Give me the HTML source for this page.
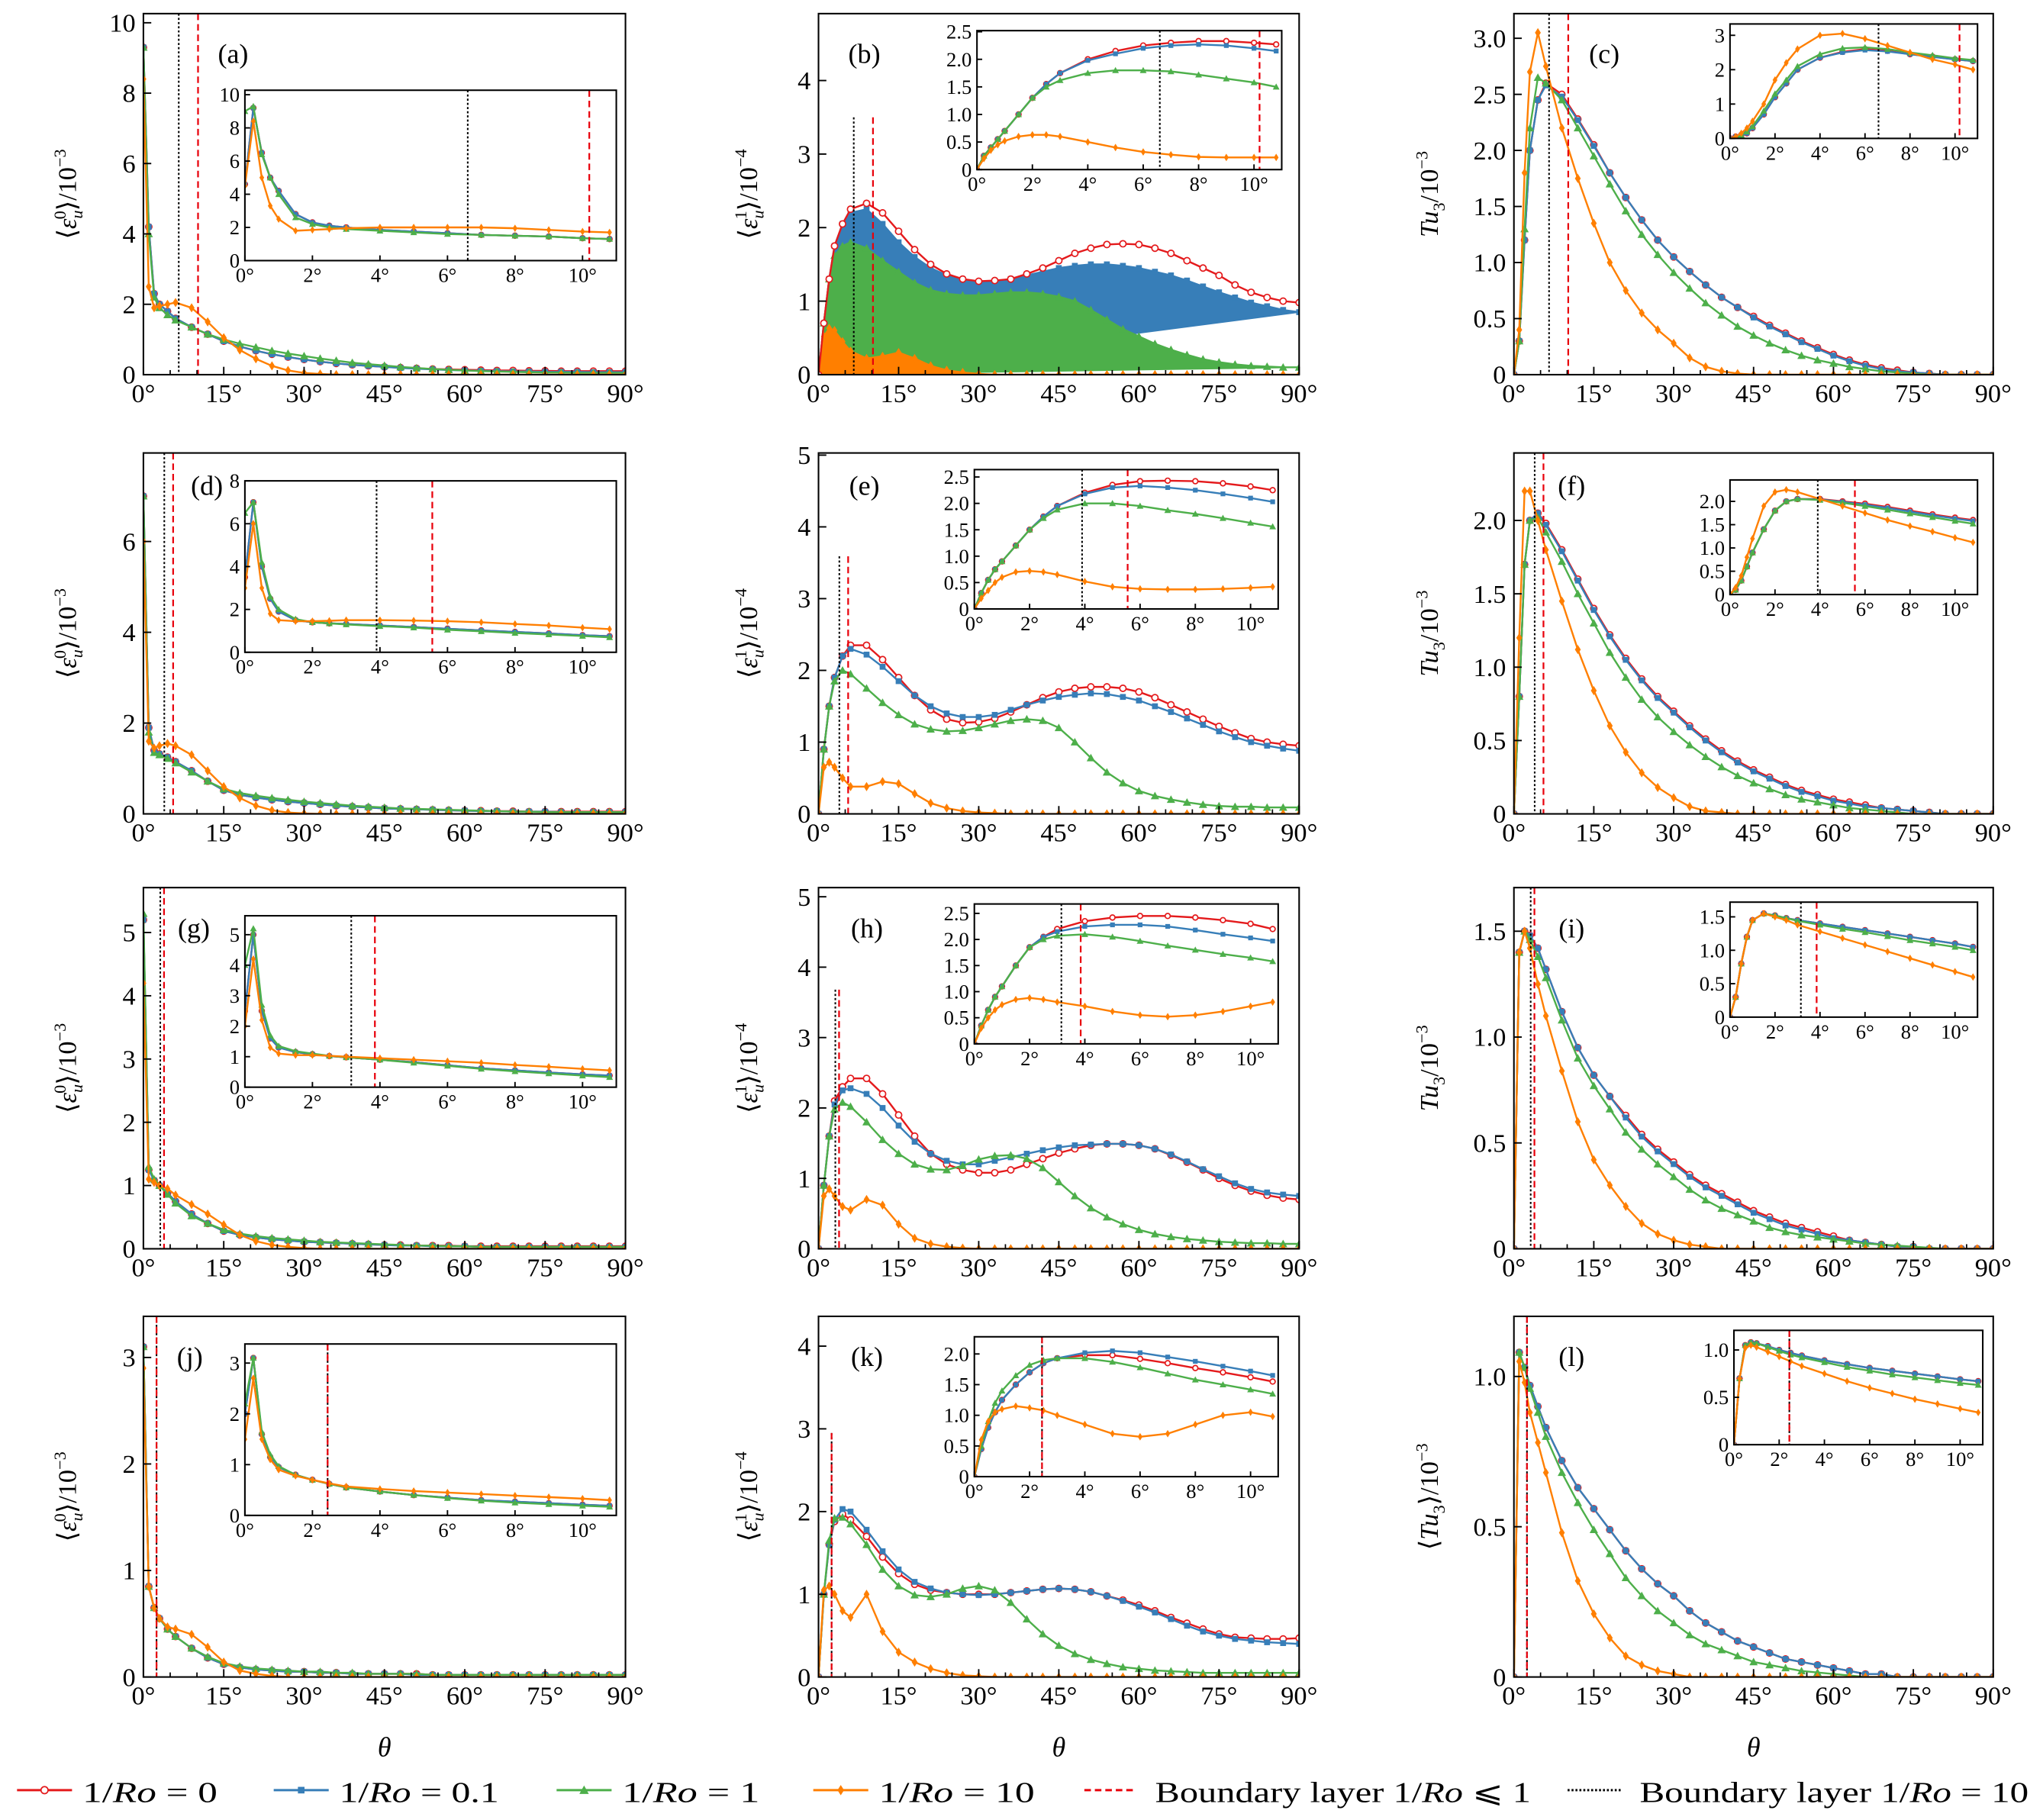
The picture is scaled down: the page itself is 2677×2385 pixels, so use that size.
<!DOCTYPE html>
<html><head><meta charset="utf-8"><style>
html,body{margin:0;padding:0;background:#fff;}
svg{display:block;}
text{font-family:"Liberation Serif",serif;fill:#000;}
</style></head><body>
<svg id="fig" xmlns="http://www.w3.org/2000/svg" width="2677" height="2385" viewBox="0 0 1560 1389.8" preserveAspectRatio="none">
<rect x="0" y="0" width="1560" height="1389.8" fill="#fff"/>
</svg>
<script>
// ---------- data ----------
const thetaMain=[0,1,2,3,4.5,6,9,12,15,18,21,24,27,30,33,36,39,42,45,48,51,54,57,60,63,66,69,72,75,78,81,84,87,90];
const thetaInset=[0,0.25,0.5,0.75,1,1.5,2,2.5,3,4,5,6,7,8,9,10,10.8];
const Z18=[0,0,0,0,0,0,0,0,0,0,0,0,0,0,0,0,0,0];
const Z19=[0].concat(Z18);
const Z16=Z18.slice(2);
// (a)
const aRed=[9.3,4.2,2.3,2.0,1.8,1.6,1.35,1.15,0.95,0.8,0.68,0.58,0.5,0.43,0.37,0.32,0.28,0.25,0.22,0.2,0.18,0.16,0.15,0.14,0.13,0.12,0.12,0.11,0.11,0.1,0.1,0.1,0.1,0.1];
const aBlue=[9.3,4.2,2.3,2.0,1.8,1.6,1.35,1.15,0.95,0.8,0.68,0.58,0.5,0.43,0.37,0.32,0.28,0.25,0.22,0.19,0.17,0.15,0.13,0.12,0.11,0.1,0.09,0.09,0.08,0.08,0.08,0.07,0.07,0.07];
const aGreen=[9.3,4.0,2.2,1.9,1.7,1.55,1.35,1.15,1.0,0.88,0.78,0.68,0.6,0.53,0.46,0.4,0.34,0.3,0.26,0.22,0.19,0.16,0.14,0.12,0.1,0.09,0.08,0.07,0.06,0.06,0.05,0.05,0.05,0.05];
const aOrange=[8.4,2.5,1.9,1.95,2.0,2.05,1.9,1.5,1.05,0.7,0.45,0.25,0.12,0.05,0.02,0].concat(Z18);
const aiRed=[4.6,9.2,6.5,5.0,4.2,2.8,2.3,2.1,2.0,1.85,1.75,1.65,1.55,1.5,1.45,1.35,1.3];
const aiBlue=[4.6,9.2,6.5,5.0,4.2,2.8,2.3,2.1,2.0,1.85,1.75,1.65,1.55,1.5,1.45,1.35,1.3];
const aiGreen=[9.0,9.3,6.4,5.0,4.0,2.6,2.2,2.0,1.9,1.8,1.7,1.6,1.55,1.5,1.45,1.35,1.3];
const aiOrange=[4.5,8.4,5.0,3.3,2.5,1.8,1.85,1.9,1.95,2.0,2.0,2.0,2.0,1.95,1.85,1.75,1.7];
// (b)
const bRed=[0,0.7,1.3,1.75,2.05,2.25,2.33,2.2,1.95,1.7,1.5,1.37,1.3,1.27,1.28,1.3,1.37,1.45,1.55,1.65,1.72,1.77,1.78,1.77,1.72,1.65,1.55,1.45,1.35,1.22,1.12,1.05,1.0,0.98];
const bBlue=[0,0.7,1.3,1.75,2.05,2.2,2.25,2.05,1.8,1.6,1.45,1.35,1.28,1.25,1.27,1.3,1.35,1.4,1.45,1.48,1.5,1.5,1.48,1.45,1.4,1.35,1.28,1.2,1.12,1.05,0.98,0.93,0.88,0.85];
const bGreen=[0,0.7,1.3,1.62,1.75,1.8,1.72,1.55,1.4,1.25,1.15,1.1,1.08,1.08,1.1,1.12,1.12,1.1,1.06,1.0,0.88,0.75,0.62,0.52,0.42,0.34,0.27,0.21,0.17,0.14,0.12,0.11,0.1,0.1];
const bOrange=[0,0.52,0.63,0.6,0.45,0.32,0.22,0.25,0.3,0.22,0.12,0.06,0.03,0.01,0,0].concat(Z18);
const biRed=[0,0.25,0.4,0.55,0.7,1.0,1.3,1.55,1.75,2.0,2.15,2.25,2.3,2.33,2.33,2.3,2.27];
const biBlue=[0,0.25,0.4,0.55,0.7,1.0,1.3,1.55,1.75,1.98,2.1,2.2,2.25,2.27,2.25,2.2,2.15];
const biGreen=[0,0.25,0.4,0.55,0.7,1.0,1.3,1.5,1.62,1.75,1.8,1.8,1.78,1.72,1.65,1.58,1.5];
const biOrange=[0,0.2,0.35,0.45,0.52,0.6,0.63,0.63,0.6,0.5,0.4,0.32,0.27,0.23,0.22,0.22,0.22];
// (c)
const cRed=[0,0.3,1.2,2.0,2.45,2.6,2.5,2.28,2.05,1.8,1.58,1.38,1.2,1.05,0.92,0.8,0.69,0.6,0.52,0.44,0.37,0.3,0.24,0.18,0.13,0.09,0.06,0.04,0.02,0.01,0,0,0,0];
const cBlue=[0,0.3,1.2,2.0,2.45,2.58,2.48,2.27,2.04,1.8,1.58,1.38,1.2,1.05,0.92,0.8,0.69,0.6,0.51,0.43,0.36,0.29,0.23,0.17,0.12,0.08,0.05,0.03,0.02,0.01,0,0,0,0];
const cGreen=[0,0.3,1.3,2.2,2.65,2.6,2.45,2.2,1.95,1.7,1.46,1.25,1.07,0.91,0.77,0.64,0.53,0.43,0.35,0.28,0.22,0.17,0.13,0.1,0.07,0.05,0.03,0.02,0.01,0,0,0,0,0];
const cOrange=[0,0.4,1.8,2.7,3.05,2.75,2.2,1.75,1.35,1.0,0.75,0.55,0.4,0.28,0.15,0.07,0.03,0.01].concat(Z16);
const ciRed=[0,0.05,0.1,0.15,0.3,0.7,1.2,1.6,2.0,2.35,2.52,2.6,2.55,2.45,2.38,2.3,2.25];
const ciBlue=[0,0.05,0.1,0.15,0.3,0.7,1.2,1.6,2.0,2.35,2.5,2.57,2.53,2.45,2.37,2.3,2.25];
const ciGreen=[0,0.05,0.1,0.2,0.35,0.8,1.3,1.7,2.1,2.45,2.62,2.65,2.6,2.5,2.42,2.33,2.28];
const ciOrange=[0,0.05,0.15,0.3,0.5,1.0,1.7,2.2,2.6,3.0,3.05,2.9,2.7,2.5,2.3,2.15,2.0];
// (d)
const dRed=[7.0,1.9,1.4,1.32,1.25,1.15,0.95,0.72,0.52,0.42,0.36,0.31,0.27,0.24,0.21,0.18,0.16,0.14,0.12,0.11,0.1,0.09,0.08,0.07,0.07,0.06,0.06,0.05,0.05,0.05,0.05,0.05,0.05,0.05];
const dBlue=[7.0,1.9,1.4,1.32,1.25,1.15,0.95,0.72,0.52,0.42,0.36,0.31,0.27,0.24,0.21,0.18,0.16,0.14,0.12,0.11,0.1,0.09,0.08,0.07,0.06,0.06,0.05,0.05,0.05,0.04,0.04,0.04,0.04,0.04];
const dGreen=[7.0,1.8,1.35,1.3,1.22,1.12,0.92,0.72,0.55,0.46,0.4,0.35,0.31,0.27,0.24,0.21,0.18,0.16,0.14,0.12,0.11,0.1,0.09,0.08,0.07,0.06,0.05,0.05,0.04,0.04,0.04,0.04,0.04,0.04];
const dOrange=[6.0,1.6,1.45,1.5,1.55,1.5,1.3,0.95,0.6,0.35,0.18,0.08,0.03,0.01,0].concat(Z19);
const diRed=[3.5,7.0,4.0,2.5,1.9,1.5,1.4,1.35,1.32,1.25,1.18,1.1,1.02,0.95,0.88,0.8,0.75];
const diBlue=[3.5,7.0,4.0,2.5,1.9,1.5,1.4,1.35,1.32,1.25,1.18,1.1,1.02,0.95,0.88,0.8,0.75];
const diGreen=[6.5,7.0,4.2,2.6,2.0,1.55,1.4,1.35,1.3,1.22,1.15,1.05,0.98,0.9,0.83,0.76,0.7];
const diOrange=[3.0,6.0,3.0,1.8,1.5,1.45,1.45,1.47,1.5,1.5,1.48,1.45,1.4,1.32,1.25,1.15,1.08];
// (e)
const eRed=[0,0.9,1.5,1.9,2.2,2.35,2.35,2.15,1.9,1.65,1.45,1.32,1.27,1.28,1.33,1.42,1.52,1.62,1.7,1.75,1.77,1.77,1.75,1.7,1.62,1.52,1.42,1.32,1.22,1.13,1.05,1.0,0.97,0.95];
const eBlue=[0,0.9,1.5,1.9,2.2,2.3,2.22,2.05,1.85,1.65,1.5,1.4,1.35,1.35,1.38,1.45,1.52,1.58,1.63,1.66,1.68,1.67,1.63,1.58,1.5,1.42,1.33,1.24,1.15,1.07,1.0,0.95,0.91,0.88];
const eGreen=[0,0.9,1.5,1.85,2.0,1.95,1.75,1.55,1.38,1.25,1.18,1.15,1.16,1.2,1.25,1.3,1.32,1.3,1.2,1.0,0.78,0.58,0.43,0.32,0.25,0.2,0.16,0.13,0.11,0.1,0.1,0.09,0.09,0.09];
const eOrange=[0,0.65,0.72,0.65,0.5,0.38,0.38,0.45,0.42,0.28,0.15,0.08,0.04,0.02,0.01,0].concat(Z18);
const eiRed=[0,0.3,0.55,0.75,0.9,1.2,1.5,1.75,1.95,2.2,2.35,2.42,2.43,2.42,2.38,2.32,2.25];
const eiBlue=[0,0.3,0.55,0.75,0.9,1.2,1.5,1.75,1.95,2.18,2.3,2.33,2.3,2.25,2.18,2.1,2.03];
const eiGreen=[0,0.3,0.55,0.75,0.9,1.2,1.5,1.72,1.88,2.0,2.0,1.95,1.87,1.8,1.72,1.63,1.56];
const eiOrange=[0,0.2,0.35,0.5,0.6,0.7,0.72,0.7,0.65,0.52,0.42,0.38,0.37,0.37,0.38,0.4,0.42];
// (f)
const fRed=[0,0.8,1.7,2.0,2.05,1.98,1.8,1.6,1.4,1.22,1.06,0.92,0.8,0.7,0.6,0.51,0.43,0.36,0.3,0.25,0.2,0.16,0.13,0.1,0.08,0.06,0.04,0.03,0.02,0.01,0,0,0,0];
const fBlue=[0,0.8,1.7,2.0,2.05,1.97,1.79,1.59,1.39,1.21,1.05,0.91,0.79,0.69,0.59,0.5,0.42,0.35,0.29,0.24,0.19,0.15,0.12,0.09,0.07,0.05,0.04,0.03,0.02,0.01,0,0,0,0];
const fGreen=[0,0.8,1.7,2.0,2.02,1.92,1.72,1.5,1.3,1.1,0.93,0.78,0.66,0.56,0.47,0.39,0.32,0.26,0.21,0.17,0.13,0.1,0.08,0.06,0.04,0.03,0.02,0.01,0,0,0,0,0,0];
const fOrange=[0,1.2,2.2,2.2,2.0,1.8,1.45,1.12,0.84,0.6,0.42,0.28,0.18,0.11,0.05,0.02,0.01,0].concat(Z16);
const fiRed=[0,0.1,0.3,0.6,0.9,1.4,1.8,2.0,2.05,2.05,2.0,1.95,1.88,1.8,1.72,1.65,1.6];
const fiBlue=[0,0.1,0.3,0.6,0.9,1.4,1.8,2.0,2.05,2.04,1.99,1.93,1.86,1.78,1.7,1.63,1.58];
const fiGreen=[0,0.1,0.3,0.6,0.9,1.4,1.8,2.0,2.05,2.03,1.97,1.9,1.82,1.74,1.66,1.58,1.52];
const fiOrange=[0,0.15,0.4,0.8,1.2,1.9,2.2,2.25,2.2,2.05,1.9,1.75,1.6,1.47,1.35,1.22,1.12];
// (g)
const gRed=[5.2,1.25,1.08,1.0,0.88,0.75,0.55,0.4,0.28,0.22,0.18,0.15,0.13,0.11,0.1,0.09,0.08,0.07,0.06,0.06,0.05,0.05,0.05,0.04,0.04,0.04,0.04,0.04,0.04,0.04,0.04,0.04,0.04,0.04];
const gBlue=[5.2,1.25,1.08,1.0,0.88,0.75,0.55,0.4,0.28,0.22,0.18,0.15,0.13,0.11,0.1,0.09,0.08,0.07,0.06,0.05,0.05,0.04,0.04,0.04,0.03,0.03,0.03,0.03,0.03,0.03,0.03,0.03,0.03,0.03];
const gGreen=[5.3,1.3,1.1,1.0,0.86,0.72,0.52,0.4,0.3,0.24,0.2,0.17,0.15,0.13,0.11,0.1,0.09,0.08,0.07,0.06,0.05,0.05,0.04,0.04,0.03,0.03,0.03,0.03,0.03,0.03,0.03,0.03,0.03,0.03];
const gOrange=[4.2,1.1,1.05,1.0,0.95,0.85,0.7,0.55,0.38,0.22,0.12,0.06,0.03,0.01,0].concat(Z19);
const giRed=[2.5,5.0,2.5,1.6,1.3,1.15,1.08,1.02,0.98,0.9,0.82,0.72,0.62,0.55,0.48,0.42,0.38];
const giBlue=[2.5,5.0,2.5,1.6,1.3,1.15,1.08,1.02,0.98,0.9,0.82,0.72,0.62,0.55,0.48,0.42,0.38];
const giGreen=[4.0,5.2,2.7,1.7,1.35,1.18,1.1,1.03,0.98,0.9,0.8,0.7,0.6,0.52,0.45,0.38,0.33];
const giOrange=[2.0,4.2,2.2,1.3,1.1,1.05,1.05,1.03,1.0,0.95,0.9,0.85,0.8,0.73,0.67,0.6,0.55];
// (h)
const hRed=[0,0.9,1.6,2.1,2.3,2.42,2.42,2.2,1.9,1.6,1.35,1.2,1.12,1.08,1.08,1.12,1.2,1.28,1.36,1.42,1.47,1.49,1.49,1.47,1.42,1.33,1.23,1.12,1.0,0.9,0.82,0.76,0.72,0.7];
const hBlue=[0,0.9,1.6,2.05,2.25,2.28,2.2,2.0,1.75,1.52,1.35,1.25,1.2,1.2,1.25,1.3,1.35,1.4,1.44,1.47,1.48,1.49,1.49,1.47,1.42,1.34,1.24,1.13,1.03,0.93,0.85,0.8,0.77,0.75];
const hGreen=[0,0.9,1.6,1.98,2.08,2.02,1.8,1.55,1.35,1.2,1.13,1.12,1.18,1.27,1.32,1.33,1.28,1.15,0.95,0.75,0.58,0.45,0.35,0.27,0.21,0.17,0.14,0.12,0.1,0.09,0.08,0.08,0.07,0.07];
const hOrange=[0,0.75,0.85,0.75,0.6,0.55,0.7,0.62,0.35,0.15,0.07,0.03,0.01,0,0,0].concat(Z18);
const hiRed=[0,0.35,0.65,0.9,1.1,1.5,1.85,2.05,2.2,2.35,2.42,2.45,2.45,2.42,2.37,2.3,2.2];
const hiBlue=[0,0.35,0.65,0.9,1.1,1.5,1.85,2.05,2.15,2.25,2.28,2.28,2.25,2.18,2.1,2.03,1.97];
const hiGreen=[0,0.35,0.65,0.9,1.1,1.5,1.85,2.0,2.07,2.1,2.05,1.97,1.88,1.8,1.72,1.65,1.58];
const hiOrange=[0,0.3,0.5,0.65,0.75,0.85,0.88,0.85,0.8,0.72,0.62,0.55,0.52,0.55,0.62,0.72,0.8];
// (i)
const iRed=[0,1.4,1.5,1.48,1.42,1.32,1.12,0.95,0.82,0.72,0.63,0.54,0.47,0.41,0.35,0.3,0.26,0.22,0.18,0.15,0.12,0.1,0.08,0.06,0.04,0.03,0.02,0.01,0.01,0,0,0,0,0];
const iBlue=[0,1.4,1.5,1.48,1.42,1.32,1.12,0.95,0.82,0.72,0.62,0.53,0.46,0.4,0.34,0.29,0.25,0.21,0.17,0.14,0.11,0.09,0.07,0.05,0.04,0.03,0.02,0.01,0.01,0,0,0,0,0];
const iGreen=[0,1.4,1.5,1.46,1.38,1.28,1.08,0.9,0.77,0.66,0.55,0.47,0.4,0.34,0.28,0.23,0.19,0.16,0.13,0.1,0.08,0.065,0.055,0.045,0.035,0.025,0.02,0.015,0.01,0.005,0,0,0,0];
const iOrange=[0,1.4,1.5,1.42,1.25,1.1,0.84,0.6,0.42,0.3,0.2,0.12,0.07,0.04,0.02,0.01].concat(Z18);
const iiRed=[0,0.3,0.8,1.2,1.45,1.55,1.52,1.48,1.45,1.4,1.35,1.3,1.25,1.2,1.15,1.1,1.05];
const iiBlue=[0,0.3,0.8,1.2,1.45,1.55,1.52,1.48,1.45,1.4,1.35,1.3,1.25,1.2,1.15,1.1,1.05];
const iiGreen=[0,0.3,0.8,1.2,1.45,1.55,1.52,1.48,1.44,1.38,1.32,1.27,1.21,1.15,1.1,1.05,1.0];
const iiOrange=[0,0.3,0.8,1.2,1.45,1.55,1.5,1.45,1.38,1.28,1.18,1.08,0.98,0.88,0.78,0.68,0.6];
// (j)
const jRed=[3.1,0.85,0.65,0.55,0.45,0.38,0.27,0.18,0.12,0.09,0.07,0.06,0.05,0.05,0.04,0.04,0.03,0.03,0.03,0.03,0.03,0.02,0.02,0.02,0.02,0.02,0.02,0.02,0.02,0.02,0.02,0.02,0.02,0.02];
const jBlue=[3.1,0.85,0.65,0.55,0.45,0.38,0.27,0.18,0.12,0.09,0.07,0.06,0.05,0.05,0.04,0.04,0.03,0.03,0.03,0.03,0.02,0.02,0.02,0.02,0.02,0.02,0.02,0.02,0.02,0.02,0.02,0.02,0.02,0.02];
const jGreen=[3.1,0.85,0.65,0.55,0.45,0.38,0.27,0.19,0.13,0.1,0.08,0.07,0.06,0.05,0.05,0.04,0.04,0.03,0.03,0.03,0.03,0.02,0.02,0.02,0.02,0.02,0.02,0.02,0.02,0.02,0.02,0.02,0.02,0.02];
const jOrange=[2.9,0.85,0.65,0.55,0.47,0.45,0.4,0.28,0.14,0.06,0.03,0.01,0,0,0,0].concat(Z18);
const jiRed=[2.0,3.1,1.6,1.15,0.95,0.8,0.7,0.62,0.55,0.47,0.4,0.35,0.3,0.27,0.24,0.21,0.19];
const jiBlue=[2.0,3.1,1.6,1.15,0.95,0.8,0.7,0.62,0.55,0.47,0.4,0.35,0.3,0.27,0.24,0.21,0.19];
const jiGreen=[2.2,3.1,1.65,1.2,0.97,0.8,0.7,0.62,0.55,0.47,0.4,0.34,0.29,0.25,0.22,0.19,0.17];
const jiOrange=[1.5,2.7,1.5,1.1,0.9,0.78,0.7,0.63,0.57,0.52,0.48,0.45,0.42,0.39,0.36,0.33,0.3];
// (k)
const kRed=[0,1.0,1.6,1.88,1.97,1.9,1.7,1.45,1.25,1.12,1.05,1.02,1.0,1.0,1.0,1.02,1.04,1.06,1.07,1.06,1.03,0.98,0.93,0.87,0.8,0.72,0.65,0.58,0.52,0.48,0.47,0.46,0.46,0.47];
const kBlue=[0,1.0,1.6,1.9,2.03,2.0,1.78,1.52,1.3,1.15,1.07,1.02,1.0,0.99,1.0,1.02,1.04,1.06,1.07,1.06,1.03,0.98,0.92,0.85,0.78,0.7,0.62,0.55,0.5,0.46,0.44,0.42,0.41,0.4];
const kGreen=[0,1.0,1.65,1.92,1.93,1.85,1.6,1.3,1.1,0.99,0.97,1.0,1.07,1.1,1.05,0.9,0.7,0.52,0.38,0.28,0.21,0.16,0.12,0.1,0.08,0.07,0.06,0.05,0.05,0.05,0.05,0.05,0.05,0.05];
const kOrange=[0,1.05,1.1,1.0,0.8,0.72,1.0,0.55,0.3,0.18,0.1,0.05,0.02,0.01,0,0].concat(Z18);
const kiRed=[0,0.45,0.8,1.05,1.25,1.5,1.7,1.85,1.93,1.98,1.98,1.92,1.85,1.77,1.7,1.62,1.55];
const kiBlue=[0,0.45,0.8,1.05,1.25,1.5,1.7,1.85,1.93,2.02,2.05,2.02,1.95,1.88,1.8,1.72,1.65];
const kiGreen=[0,0.5,0.9,1.2,1.4,1.65,1.82,1.9,1.93,1.93,1.87,1.78,1.68,1.58,1.5,1.42,1.35];
const kiOrange=[0,0.6,0.9,1.05,1.1,1.15,1.12,1.08,1.0,0.85,0.7,0.65,0.7,0.85,1.0,1.05,0.98];
// (l)
const lRed=[0,1.08,1.03,0.97,0.9,0.83,0.72,0.63,0.56,0.49,0.42,0.36,0.31,0.27,0.22,0.18,0.15,0.12,0.1,0.08,0.06,0.05,0.04,0.03,0.02,0.01,0.01,0,0,0,0,0,0,0];
const lBlue=[0,1.08,1.03,0.97,0.9,0.83,0.72,0.63,0.56,0.49,0.42,0.36,0.31,0.27,0.22,0.18,0.15,0.12,0.1,0.08,0.06,0.05,0.04,0.03,0.02,0.01,0.01,0,0,0,0,0,0,0];
const lGreen=[0,1.08,1.03,0.96,0.88,0.8,0.68,0.58,0.49,0.41,0.33,0.27,0.22,0.18,0.14,0.11,0.09,0.07,0.05,0.04,0.03,0.02,0.015,0.01,0.005,0,0,0,0,0,0,0,0,0];
const lOrange=[0,1.05,0.98,0.88,0.78,0.68,0.48,0.32,0.21,0.13,0.07,0.04,0.02,0.01,0,0].concat(Z18);
const liRed=[0,0.7,1.05,1.08,1.07,1.04,1.0,0.97,0.94,0.89,0.85,0.81,0.78,0.75,0.72,0.69,0.67];
const liBlue=[0,0.7,1.05,1.08,1.07,1.04,1.0,0.97,0.94,0.89,0.85,0.81,0.78,0.75,0.72,0.69,0.67];
const liGreen=[0,0.7,1.05,1.08,1.07,1.03,0.99,0.95,0.92,0.87,0.82,0.78,0.74,0.71,0.68,0.65,0.63];
const liOrange=[0,0.7,1.02,1.05,1.03,0.98,0.93,0.88,0.83,0.75,0.67,0.6,0.54,0.48,0.43,0.38,0.34];
// boundary layer thickness (deg) per row: [1/Ro=10 (black), 1/Ro<=1 (red)]
const blBlack=[6.6,3.9,3.15,2.45];
const blRed=[10.2,5.55,3.85,2.45];
const xTickMain=[0,15,30,45,60,75,90];
const xTickInset=[0,2,4,6,8,10];

// ---------- drawing ----------
const NS='http://www.w3.org/2000/svg';
const svg=document.getElementById('fig');
const COL={r:'#e41a1c',b:'#377eb8',g:'#4daf4a',o:'#ff7f00'};
function el(tag,attrs,parent){const e=document.createElementNS(NS,tag);for(const k in attrs)e.setAttribute(k,attrs[k]);(parent||svg).appendChild(e);return e;}
let clipId=0;
function fmt(v,dec){return v===0?'0':v.toFixed(dec);}

function marker(g,type,x,y,c,s){
  let m;
  if(type==='o'){m=el('circle',{cx:x,cy:y,r:s*0.75,fill:'#fff',stroke:c,'stroke-width':1});}
  else if(type==='s'){m=el('rect',{x:x-s*0.7,y:y-s*0.7,width:s*1.4,height:s*1.4,fill:c});}
  else if(type==='t'){m=el('polygon',{points:`${x},${y-s} ${x-s},${y+s*0.8} ${x+s},${y+s*0.8}`,fill:c});}
  else {m=el('polygon',{points:`${x},${y-s*1.1} ${x-s*0.7},${y} ${x},${y+s*1.1} ${x+s*0.7},${y}`,fill:c});}
  g.appendChild(m);
  
  
}

function axes(p){
  const sx=t=>p.x0+t/p.xmax*(p.x1-p.x0);
  const sy=v=>p.y1-v/p.ymax*(p.y1-p.y0);
  const g=el('g',{});
  
  
  const cid='c'+(clipId++);
  const cp=el('clipPath',{id:cid},g);
  el('rect',{x:p.x0,y:p.y0,width:p.x1-p.x0,height:p.y1-p.y0},cp);
  if(p.inset){const bg=el('rect',{x:p.x0,y:p.y0,width:p.x1-p.x0,height:p.y1-p.y0,fill:'#fff'},g);
    
    }
  const plot=el('g',{'clip-path':`url(#${cid})`},g);
  
  
  const keys=[['r','o'],['b','s'],['g','t'],['o','d']];
  const names=['series-ro-0','series-ro-0.1','series-ro-1','series-ro-10'];
  const order=p.fill?[1,2,3,0]:[0,1,2,3];
  order.forEach(i=>{
    const ys=p.series[i];const c=COL[keys[i][0]];
    const sg=el('g',{},plot);
    
    
    const pts=p.theta.map((t,j)=>`${sx(t).toFixed(2)},${sy(ys[j]).toFixed(2)}`).join(' ');
    if(p.fill&&i!==0){
      const poly=el('polygon',{points:pts,fill:c,stroke:c,'stroke-width':1},sg);
      
      
    }
    const pl=el('polyline',{points:pts,fill:'none',stroke:c,'stroke-width':1.4,'stroke-linejoin':'round'},sg);
    
    
    p.theta.forEach((t,j)=>{marker(sg,keys[i][1],sx(t),sy(ys[j]),c,p.ms);});
  });
  const topV=p.dashTop==null?p.ymax:p.dashTop;
  const lb=el('line',{x1:sx(blBlack[p.row]),x2:sx(blBlack[p.row]),y1:sy(topV),y2:p.y1,stroke:'#000','stroke-width':1.2,'stroke-dasharray':'1.6,1.6'},plot);
  
  
  const lr=el('line',{x1:sx(blRed[p.row]),x2:sx(blRed[p.row]),y1:sy(topV),y2:p.y1,stroke:'#e8000b','stroke-width':1.3,'stroke-dasharray':'5,3'},plot);
  
  
  const fr=el('rect',{x:p.x0,y:p.y0,width:p.x1-p.x0,height:p.y1-p.y0,fill:'none',stroke:'#000','stroke-width':1.2},g);
  
  
  const tl=p.inset?4:6;
  p.yticks.forEach(v=>{
    const y=sy(v);
    const t=el('line',{x1:p.x0,x2:p.x0+tl,y1:y,y2:y,stroke:'#000','stroke-width':1.1},g);
    
    
    const tx=el('text',{x:p.x0-(p.inset?4:6),y:y+p.fs*0.34,'font-size':p.fs,'text-anchor':'end'},g);
    tx.textContent=fmt(v,p.ydec);
    
    
  });
  p.xticks.forEach(v=>{
    const x=sx(v);
    const t=el('line',{x1:x,x2:x,y1:p.y1,y2:p.y1-tl,stroke:'#000','stroke-width':1.1},g);
    
    
    const tx=el('text',{x:x,y:p.y1+p.fs*1.05,'font-size':p.fs,'text-anchor':'middle'},g);
    tx.textContent=v+'°';
    
    
  });
  if(!p.inset){
    for(let v=5;v<90;v+=5){if(v%15===0)continue;const x=sx(v);
      const t=el('line',{x1:x,x2:x,y1:p.y1,y2:p.y1-3.5,stroke:'#000','stroke-width':1},g);
      
      }
  }
  return g;
}

function ticks(max,step){const a=[];for(let v=0;v<=max+1e-9;v+=step)a.push(Math.round(v*100)/100);return a;}

const cols=[[109.5,477.6],[625,992],[1156,1522]];
const rows=[[10.4,286.1],[345.9,621.5],[677.8,953.6],[1005.2,1280.6]];
const panels=[
 {id:'a',row:0,col:0,ymax:10.26,ys:2,yd:0,S:[aRed,aBlue,aGreen,aOrange],I:[aiRed,aiBlue,aiGreen,aiOrange],ib:[187,470.6,68.9,199],iymax:10.27,iys:2,iyd:0,lab:[178,48]},
 {id:'b',row:0,col:1,ymax:4.91,ys:1,yd:0,S:[bRed,bBlue,bGreen,bOrange],I:[biRed,biBlue,biGreen,biOrange],ib:[746,978.7,23.4,129.5],iymax:2.52,iys:0.5,iyd:1,lab:[660,48],dashTop:3.5,fill:true},
 {id:'c',row:0,col:2,ymax:3.22,ys:0.5,yd:1,S:[cRed,cBlue,cGreen,cOrange],I:[ciRed,ciBlue,ciGreen,ciOrange],ib:[1321,1510,18.3,105.7],iymax:3.33,iys:1,iyd:0,lab:[1225,48]},
 {id:'d',row:1,col:0,ymax:7.95,ys:2,yd:0,S:[dRed,dBlue,dGreen,dOrange],I:[diRed,diBlue,diGreen,diOrange],ib:[187,470.6,367.2,498.1],iymax:8.0,iys:2,iyd:0,lab:[158,378]},
 {id:'e',row:1,col:1,ymax:5.03,ys:1,yd:0,S:[eRed,eBlue,eGreen,eOrange],I:[eiRed,eiBlue,eiGreen,eiOrange],ib:[744,976,358.6,465],iymax:2.64,iys:0.5,iyd:1,lab:[660,378],dashTop:3.59},
 {id:'f',row:1,col:2,ymax:2.46,ys:0.5,yd:1,S:[fRed,fBlue,fGreen,fOrange],I:[fiRed,fiBlue,fiGreen,fiOrange],ib:[1321,1510,366.5,454],iymax:2.46,iys:0.5,iyd:1,lab:[1200,378]},
 {id:'g',row:2,col:0,ymax:5.71,ys:1,yd:0,S:[gRed,gBlue,gGreen,gOrange],I:[giRed,giBlue,giGreen,giOrange],ib:[187,470.6,699.3,830.2],iymax:5.62,iys:1,iyd:0,lab:[148,716]},
 {id:'h',row:2,col:1,ymax:5.13,ys:1,yd:0,S:[hRed,hBlue,hGreen,hOrange],I:[hiRed,hiBlue,hiGreen,hiOrange],ib:[744,976,690.3,797.1],iymax:2.68,iys:0.5,iyd:1,lab:[662,716],dashTop:3.68},
 {id:'i',row:2,col:2,ymax:1.706,ys:0.5,yd:1,S:[iRed,iBlue,iGreen,iOrange],I:[iiRed,iiBlue,iiGreen,iiOrange],ib:[1321,1510,688.9,776.7],iymax:1.72,iys:0.5,iyd:1,lab:[1200,716]},
 {id:'j',row:3,col:0,ymax:3.386,ys:1,yd:0,S:[jRed,jBlue,jGreen,jOrange],I:[jiRed,jiBlue,jiGreen,jiOrange],ib:[187,470.6,1026.3,1157.2],iymax:3.376,iys:1,iyd:0,lab:[145,1043]},
 {id:'k',row:3,col:1,ymax:4.36,ys:1,yd:0,S:[kRed,kBlue,kGreen,kOrange],I:[kiRed,kiBlue,kiGreen,kiOrange],ib:[744,976,1020.8,1127.6],iymax:2.28,iys:0.5,iyd:1,lab:[662,1043],dashTop:2.95},
 {id:'l',row:3,col:2,ymax:1.2,ys:0.5,yd:1,S:[lRed,lBlue,lGreen,lOrange],I:[liRed,liBlue,liGreen,liOrange],ib:[1324,1514,1015.9,1103.2],iymax:1.207,iys:0.5,iyd:1,lab:[1200,1043]}
];

panels.forEach(P=>{
  const [x0,x1]=cols[P.col];const [y0,y1]=rows[P.row];
  axes({name:'panel-'+P.id+'-axes',x0,x1,y0,y1,xmax:90,ymax:P.ymax,yticks:ticks(P.ymax,P.ys),ydec:P.yd,xticks:xTickMain,fs:20,ms:3.2,series:P.S,theta:thetaMain,fill:P.fill,dashTop:P.dashTop,row:P.row});
  const lab=el('text',{x:P.lab[0],y:P.lab[1],'font-size':21,'text-anchor':'middle'});
  lab.textContent='('+P.id+')';
  
  
  const b=P.ib;
  axes({name:'panel-'+P.id+'-inset',inset:true,x0:b[0],x1:b[1],y0:b[2],y1:b[3],xmax:11,ymax:P.iymax,yticks:ticks(P.iymax,P.iys),ydec:P.iyd,xticks:xTickInset,fs:15.5,ms:2.6,series:P.I,theta:thetaInset,fill:false,dashTop:null,row:P.row});
});

function ylabel(x,y,kind,idx){
  const t=el('text',{x:0,y:0,'font-size':20,'text-anchor':'middle',transform:`translate(${x},${y}) rotate(-90)`});
  if(kind==='eps'){
    t.innerHTML=`⟨<tspan font-style="italic">ε</tspan><tspan font-size="13" font-style="italic" dy="5">u</tspan><tspan font-size="13" dx="-7" dy="-13">${idx}</tspan><tspan dy="8">⟩/10</tspan><tspan font-size="13" dy="-8">−${idx==='0'?3:4}</tspan>`;
  } else {
    t.innerHTML=`${kind==='avg'?'⟨':''}<tspan font-style="italic">Tu</tspan><tspan font-size="13" dy="5">3</tspan><tspan dy="-5">${kind==='avg'?'⟩':''}/10</tspan><tspan font-size="13" dy="-8">−3</tspan>`;
  }
  
  
}
rows.forEach((r,i)=>{
  const cy=(r[0]+r[1])/2;
  ylabel(58,cy,'eps','0');
  ylabel(578,cy,'eps','1');
  ylabel(1098,cy,i===3?'avg':'tu','');
});
cols.forEach(c=>{
  const t=el('text',{x:(c[0]+c[1])/2,y:1341,'font-size':21,'font-style':'italic','text-anchor':'middle'});
  t.textContent='θ';
  
  
});
const lg=el('g',{});


const legItems=[[13,55,'r','o','0',103],[209,251,'b','s','0.1',122],[425,467,'g','t','1',105],[621,663,'o','d','10',119]];
legItems.forEach(it=>{
  const e=el('g',{},lg);
  
  
  el('line',{x1:it[0],x2:it[1],y1:1367,y2:1367,stroke:COL[it[2]],'stroke-width':1.8},e);
  marker(e,it[3],(it[0]+it[1])/2,1367,COL[it[2]],3.6);
  const t=el('text',{x:it[1]+8,y:1376,'font-size':22,textLength:it[5],lengthAdjust:'spacingAndGlyphs'},e);
  t.innerHTML='1/<tspan font-style="italic">Ro</tspan> = '+it[4];
});
const e1=el('g',{},lg);


el('line',{x1:828,x2:867,y1:1367,y2:1367,stroke:'#e8000b','stroke-width':1.8,'stroke-dasharray':'5,3'},e1);
const t1=el('text',{x:882,y:1376,'font-size':22,textLength:287,lengthAdjust:'spacingAndGlyphs'},e1);
t1.innerHTML='Boundary layer 1/<tspan font-style="italic">Ro</tspan> ⩽ 1';
const e2=el('g',{},lg);


el('line',{x1:1197,x2:1238,y1:1367,y2:1367,stroke:'#000','stroke-width':1.8,'stroke-dasharray':'1.5,1.5'},e2);
const t2=el('text',{x:1252,y:1376,'font-size':22,textLength:297,lengthAdjust:'spacingAndGlyphs'},e2);
t2.innerHTML='Boundary layer 1/<tspan font-style="italic">Ro</tspan> = 10';
</script>
</body></html>
